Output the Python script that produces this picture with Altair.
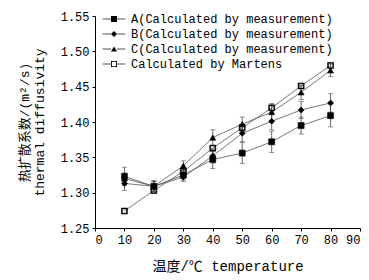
import altair as alt
import pandas as pd

temps = [10, 20, 30, 40, 50, 60, 70, 80]
series_names = ["A(Calculated by measurement)", "B(Calculated by measurement)",
                "C(Calculated by measurement)", "Calculated by Martens"]
A = [1.323, 1.309, 1.325, 1.347, 1.356, 1.372, 1.395, 1.409]
A_err = [0.013, 0.008, 0.007, 0.013, 0.015, 0.015, 0.012, 0.016]
B = [1.313, 1.309, 1.322, 1.352, 1.384, 1.401, 1.417, 1.427]
B_err = [0.010, 0.007, 0.006, 0.010, 0.012, 0.012, 0.012, 0.013]
C = [1.320, 1.309, 1.338, 1.378, 1.397, 1.414, 1.442, 1.473]
C_err = [0.008, 0.007, 0.007, 0.011, 0.010, 0.012, 0.010, 0.009]
M = [1.274, 1.303, 1.330, 1.363, 1.392, 1.420, 1.451, 1.480]
M_err = [0, 0, 0, 0, 0, 0, 0, 0]

rows = []
for name, vals, errs in zip(series_names, [A, B, C, M], [A_err, B_err, C_err, M_err]):
    for t, v, e in zip(temps, vals, errs):
        rows.append({"series": name, "temp": t, "value": v, "err": e})
df = pd.DataFrame(rows)

FONT = "Liberation Mono, Noto Sans CJK SC"
YTITLE = ["热扩散系数/(m²/s)", "thermal diffusivity"]
XTITLE = "温度/℃ temperature"

xaxis = alt.Axis(values=list(range(0, 91, 10)), title=XTITLE, format="d",
                 titlePadding=14, titleFontSize=14, labelOverlap=False)
yaxis = alt.Axis(values=[1.25, 1.30, 1.35, 1.40, 1.45, 1.50, 1.55], format=".2f",
                 title=YTITLE, labelOverlap=False,
                 titlePadding=14, titleLineHeight=15, titleFontSize=13)
xscale = alt.Scale(domain=[0, 90], nice=False)
yscale = alt.Scale(domain=[1.25, 1.55], nice=False, zero=False)

key_names = [s + "_" for s in series_names]
base = alt.Chart(df).transform_calculate(key="datum.series + '_'")

LEGX, LEGY = 13, -3
common_leg = dict(title=None, orient="none", legendX=LEGX, legendY=LEGY,
                  symbolSize=36, labelFontSize=12, labelFont=FONT, labelLimit=0,
                  labelOffset=11, rowPadding=3, padding=0)

lines = base.mark_line(strokeWidth=0.8).encode(
    x=alt.X("temp:Q", scale=xscale, axis=xaxis),
    y=alt.Y("value:Q", scale=yscale, axis=yaxis),
    stroke=alt.Stroke("series:N",
                      scale=alt.Scale(domain=series_names, range=["#555"] * 4),
                      legend=alt.Legend(symbolType="M-3.8,0H-1M1,0H3.8",
                                        symbolStrokeWidth=1, labelColor="black",
                                        **common_leg)))

err = base.transform_filter("datum.err > 0").transform_calculate(
    lo="datum.value - datum.err", hi="datum.value + datum.err"
).mark_errorbar(ticks=True, color="#444", thickness=0.8).encode(
    x=alt.X("temp:Q", scale=xscale, axis=xaxis),
    y=alt.Y("lo:Q", scale=yscale, axis=yaxis), y2="hi:Q")

open_square = "M-1,-1H1V1H-1Z M-0.72,-0.72V0.72H0.72V-0.72Z"
pts_leg = alt.Legend(labelExpr="''", symbolStrokeColor="black",
                     symbolStrokeWidth=0.9, **common_leg)
pts = base.mark_point(filled=True, stroke="black", strokeWidth=0.6, opacity=1).encode(
    x=alt.X("temp:Q", scale=xscale, axis=xaxis),
    y=alt.Y("value:Q", scale=yscale, axis=yaxis),
    shape=alt.Shape("key:N", scale=alt.Scale(domain=key_names,
                    range=["square", "diamond", "triangle-up", open_square]),
                    legend=pts_leg),
    fill=alt.Fill("key:N", scale=alt.Scale(domain=key_names,
                  range=["black", "black", "black", "black"]),
                  legend=pts_leg),
    size=alt.value(36))

chart = alt.layer(lines, err, pts).properties(
    width=265, height=212,
    autosize=alt.AutoSizeParams(type="none"),
    padding={"left": 95, "top": 16, "right": 9, "bottom": 52},
    background="white",
).configure_view(stroke=None).configure_axis(
    domainColor="black", tickColor="black", grid=False, tickSize=3,
    labelFont=FONT, labelFontSize=12, labelColor="black", labelOverlap=False,
    titleFont=FONT, titleFontWeight="normal", titleColor="black",
    labelPadding=3,
)

chart.save("out.html", embed_options={"renderer": "svg", "actions": False})
